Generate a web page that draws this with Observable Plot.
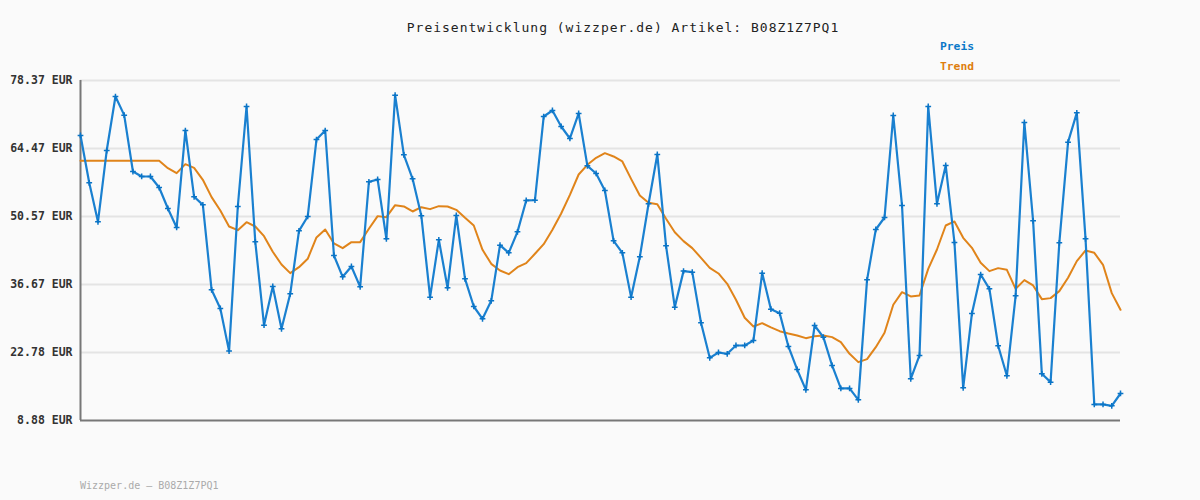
<!DOCTYPE html>
<html>
<head>
<meta charset="utf-8">
<script src="https://cdn.jsdelivr.net/npm/d3@7"></script>
<script src="https://cdn.jsdelivr.net/npm/@observablehq/plot@0.6"></script>
<style>
  html, body { margin: 0; padding: 0; background: #fafafa; }
  #wrap { position: relative; width: 1200px; height: 500px; background: #fafafa; font-family: "DejaVu Sans Mono", monospace; }
  .t { position: absolute; white-space: nowrap; }
  #title { left: 0; width: 1246px; text-align: center; top: 20px; font-size: 13px; letter-spacing: 1px; color: #222; }
  #lp { left: 940px; top: 40px; font-size: 11.3px; font-weight: bold; color: #0a78c8; }
  #lt { left: 940px; top: 60px; font-size: 11.3px; font-weight: bold; color: #de7e0e; }
  #foot { left: 80px; top: 480px; font-size: 10px; color: #aaaaaa; }
</style>
</head>
<body>
<div id="wrap">
  <div id="chart"></div>
  <div class="t" id="title">Preisentwicklung (wizzper.de) Artikel: B08Z1Z7PQ1</div>
  <div class="t" id="lp">Preis</div>
  <div class="t" id="lt">Trend</div>
  <div class="t" id="foot">Wizzper.de – B08Z1Z7PQ1</div>
</div>
<script>
const yTicks = [8.88, 22.78, 36.67, 50.57, 64.47, 78.37];

const prices = [67.13, 57.46, 49.49, 64.06, 75.10, 71.29, 59.77, 58.75, 58.75, 56.50,
52.21, 48.33, 68.15, 54.60, 52.96, 35.59, 31.78, 23.06, 52.62, 73.06,
45.40, 28.37, 36.27, 27.62, 34.77, 47.65, 50.58, 66.31, 68.15, 42.61,
38.25, 40.36, 36.20, 57.66, 58.14, 46.01, 75.37, 63.18, 58.27, 50.71,
34.09, 45.81, 36.00, 50.78, 37.84, 32.18, 29.66, 33.34, 44.72, 43.15,
47.44, 53.85, 53.92, 71.01, 72.24, 68.97, 66.52, 71.63, 60.93, 59.37,
55.89, 45.60, 43.15, 34.09, 42.33, 53.17, 63.25, 44.58, 32.05, 39.41,
39.20, 28.85, 21.69, 22.78, 22.51, 24.21, 24.21, 25.24, 39.00, 31.64,
30.82, 24.01, 19.31, 15.15, 28.30, 25.92, 20.13, 15.43, 15.43, 13.11,
37.63, 47.92, 50.37, 71.22, 52.83, 17.40, 22.17, 73.06, 53.17, 61.00,
45.26, 15.56, 30.75, 38.72, 35.79, 24.15, 18.02, 34.37, 69.79, 49.69,
18.42, 16.72, 45.20, 65.77, 71.76, 46.01, 12.16, 12.16, 11.88, 14.40];

const trend = [61.95, 61.95, 61.95, 61.95, 61.95, 61.95, 61.95, 61.95, 61.95, 61.95,
60.45, 59.43, 61.27, 60.52, 58.07, 54.53, 51.80, 48.53, 47.78, 49.42,
48.53, 46.56, 43.36, 40.77, 39.00, 40.22, 41.93, 46.29, 47.92, 45.06,
44.11, 45.33, 45.33, 48.06, 50.65, 50.44, 52.89, 52.62, 51.60, 52.48,
52.08, 52.69, 52.62, 51.94, 50.30, 48.74, 43.77, 40.90, 39.54, 38.79,
40.22, 41.04, 42.95, 44.92, 47.85, 51.19, 55.00, 59.16, 61.14, 62.57,
63.52, 62.84, 61.82, 58.27, 54.87, 53.37, 53.10, 50.10, 47.37, 45.54,
44.11, 42.13, 40.09, 38.93, 36.82, 33.55, 29.87, 28.10, 28.78, 27.90,
27.14, 26.67, 26.26, 25.71, 26.12, 26.26, 25.92, 24.90, 22.51, 20.81,
21.42, 23.87, 26.80, 32.53, 35.11, 34.23, 34.43, 39.88, 43.83, 48.74,
49.56, 46.22, 44.17, 41.11, 39.41, 40.02, 39.68, 35.79, 37.57, 36.48,
33.68, 33.89, 35.32, 38.04, 41.45, 43.63, 43.15, 40.70, 34.91, 31.50];

const data = prices.map((p, i) => ({ i, price: p, trend: trend[i] }));
const blue = "#1a80d0";
const orange = "#e0841a";
const fmt = d => d.toFixed(2) + " EUR";

const chart = Plot.plot({
  width: 1200,
  height: 500,
  marginLeft: 80,
  marginRight: 80,
  marginTop: 80,
  marginBottom: 80,
  style: { background: "#fafafa", fontFamily: "DejaVu Sans Mono", fontSize: "11.5px", color: "#333" },
  x: { domain: [0, prices.length - 1], axis: null },
  y: { domain: [8.88, 78.37], axis: null },
  marks: [
    Plot.ruleY(yTicks.slice(1), { stroke: "#e4e4e4", strokeWidth: 2, x1: 0, x2: prices.length - 1 }),
    Plot.axisY({ ticks: yTicks, tickFormat: fmt, tickSize: 0, tickPadding: 8, fontWeight: "bold", fill: "#333", label: null }),
    Plot.ruleX([0], { y1: 8.88, y2: 78.37, stroke: "#777", strokeWidth: 2 }),
    Plot.ruleY([8.88], { x1: 0, x2: prices.length - 1, stroke: "#777", strokeWidth: 2 }),
    Plot.line(data, { x: "i", y: "trend", stroke: orange, strokeWidth: 2 }),
    Plot.line(data, { x: "i", y: "price", stroke: blue, strokeWidth: 2.2 }),
    Plot.dot(data, { x: "i", y: "price", symbol: "plus", r: 2, stroke: "#0a74c6", strokeWidth: 1.5 })
  ]
});
document.getElementById("chart").appendChild(chart);
</script>
</body>
</html>
